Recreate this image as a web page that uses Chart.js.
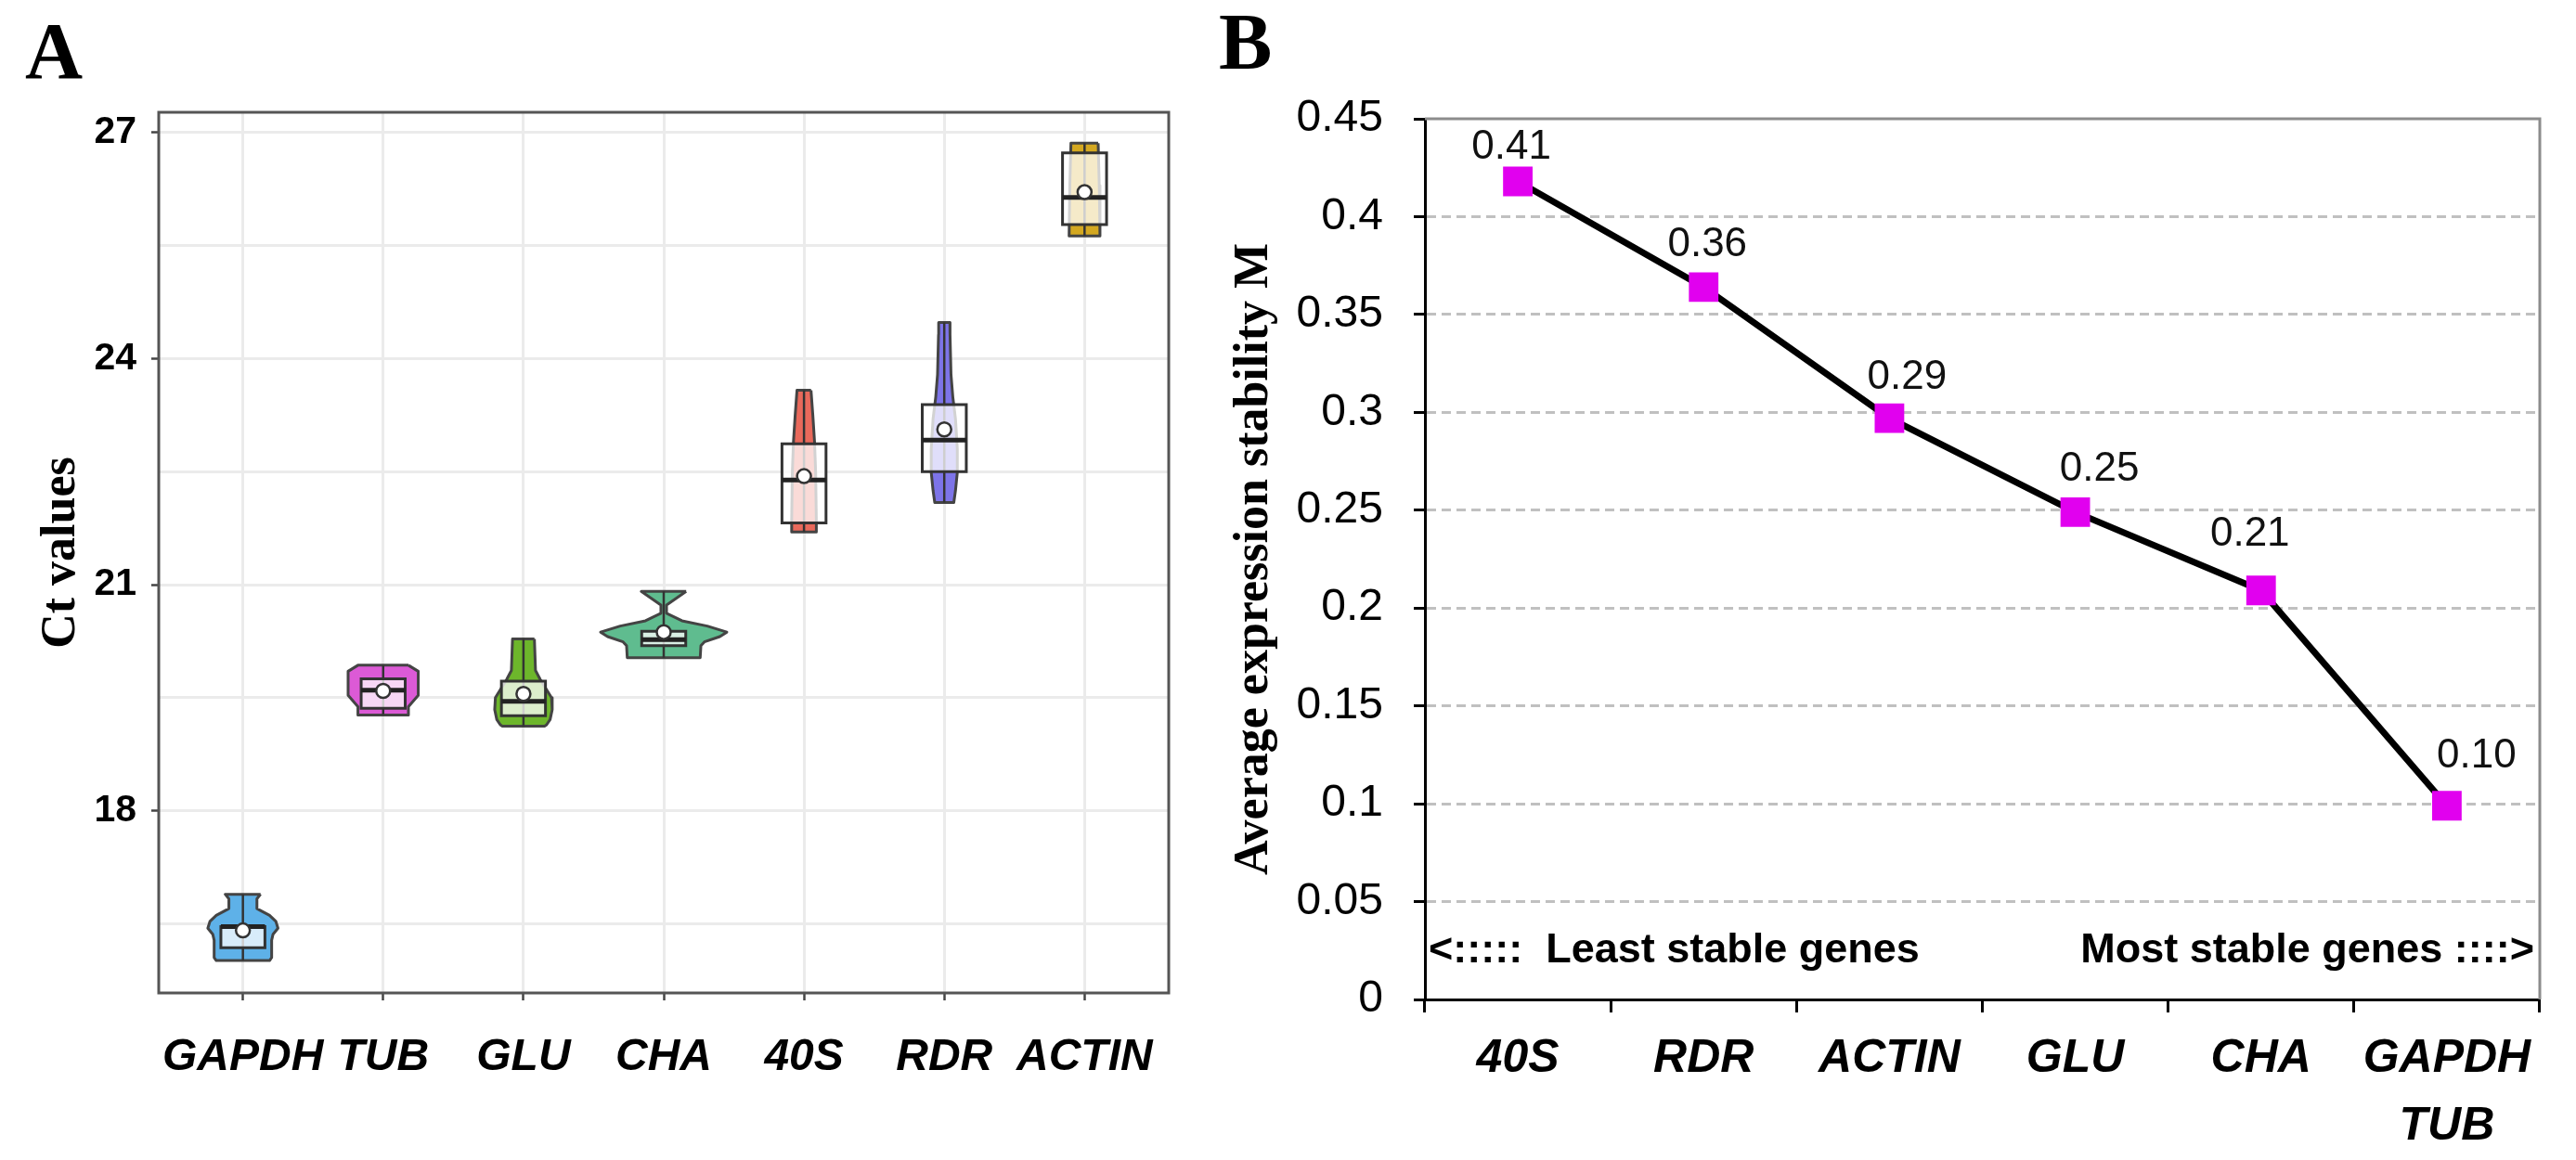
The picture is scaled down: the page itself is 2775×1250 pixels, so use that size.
<!DOCTYPE html>
<html>
<head>
<meta charset="utf-8">
<title>Ct values / expression stability</title>
<script src="https://cdn.jsdelivr.net/npm/chart.js@4.4.1/dist/chart.umd.min.js"></script>
<style>
	html, body { margin:0; padding:0; background:#fff; }
	#wrap { position:relative; width:2775px; height:1250px; overflow:hidden; }
	.panel { position:absolute; top:0; height:1250px; }
	#panelA { left:0; width:1300px; }
	#panelB { left:1300px; width:1475px; }
	.tag { position:absolute; font-family:'Liberation Serif', 'Times New Roman', serif; font-weight:bold; font-size:86px; line-height:1; color:#000; }
</style>
</head>
<body>
<div id="wrap">
	<div class="panel" id="panelA"><canvas id="violin-chart"></canvas></div>
	<div class="panel" id="panelB"><canvas id="line-chart"></canvas></div>
	<div class="tag" style="left:27px;top:12px">A</div>
	<div class="tag" style="left:1313px;top:2px">B</div>
</div>
<script>
// ---- panel A : Ct values ----
const genesA = ['GAPDH', 'TUB', 'GLU', 'CHA', '40S', 'RDR', 'ACTIN'];
const violinGAPDH = [[16.89,0.126],[16.83,0.10],[16.70,0.10],[16.61,0.19],[16.53,0.235],[16.44,0.25],[16.36,0.215],[16.28,0.205],[16.05,0.205],[16.01,0.19]];
const violinTUB = [[19.93,0.18],[19.85,0.25],[19.53,0.25],[19.38,0.18],[19.27,0.18]];
const violinGLU = [[20.28,0.078],[19.86,0.086],[19.74,0.12],[19.62,0.16],[19.50,0.20],[19.34,0.205],[19.21,0.19],[19.14,0.165],[19.12,0.15]];
const violinCHA = [[20.91,0.16],[20.73,0.02],[20.62,0.02],[20.52,0.13],[20.45,0.31],[20.37,0.45],[20.31,0.40],[20.24,0.29],[20.19,0.265],[20.03,0.26]];
const violin40S = [[23.58,0.05],[23.25,0.063],[22.90,0.075],[22.50,0.083],[21.84,0.088],[21.70,0.088]];
const violinRDR = [[24.48,0.04],[24.32,0.041],[23.79,0.048],[23.49,0.061],[23.20,0.08],[22.80,0.093],[22.49,0.093],[22.25,0.08],[22.09,0.068]];
const violinACTIN = [[26.86,0.097],[26.30,0.105],[25.63,0.11]];
const violinsA = [violinGAPDH, violinTUB, violinGLU, violinCHA, violin40S, violinRDR, violinACTIN];
const q1A = [16.18, 19.36, 19.26, 20.19, 21.82, 22.50, 25.78];
const q3A = [16.46, 19.75, 19.72, 20.38, 22.87, 23.39, 26.73];
const medianA = [16.46, 19.60, 19.45, 20.27, 22.39, 22.92, 26.14];
const meanA = [16.41, 19.59, 19.55, 20.37, 22.44, 23.06, 26.21];
const yTicksA = [16.5, 18, 19.5, 21, 22.5, 24, 25.5, 27];
const yLabelsA = [18, 21, 24, 27];

// ---- panel B : geNorm M ----
const genesB = ['40S', 'RDR', 'ACTIN', 'GLU', 'CHA', ['GAPDH', 'TUB']];
const stabilityM = [0.418, 0.364, 0.297, 0.249, 0.209, 0.099];
const stabilityText = ['0.41', '0.36', '0.29', '0.25', '0.21', '0.10'];
const yTicksB = [0, 0.05, 0.1, 0.15, 0.2, 0.25, 0.3, 0.35, 0.4, 0.45];

// styles
const violinFill = ['#5eb1e8', '#dc5ad6', '#6db62b', '#5fbc8f', '#e9695b', '#7d74e8', '#d4a820'];
const BOX_HALF = 0.157;
const labelNudge = [[-7,37],[4,46],[19,44],[26,46],[-12,60],[32,53]]; // dx, up (px)

Chart.defaults.font.family = "'Liberation Sans', Arial, sans-serif";
Chart.defaults.color = '#000';

function violinPoints(i, outline){
	var right = outline.map(function(p){ return {x: i + p[1], y: p[0]}; });
	var left = outline.slice().reverse().map(function(p){ return {x: i - p[1], y: p[0]}; });
	return right.concat(left, [right[0]]);
}

function boxPoints(i){
	return [
		{x: i - BOX_HALF, y: q3A[i]}, {x: i + BOX_HALF, y: q3A[i]},
		{x: i + BOX_HALF, y: q1A[i]}, {x: i - BOX_HALF, y: q1A[i]},
		{x: i - BOX_HALF, y: q3A[i]}
	];
}

//cadre autour de la zone du graphe A
const frameA = {
	id: 'frameA',
	beforeDatasetsDraw(chart){
		var a = chart.chartArea, ctx = chart.ctx;
		ctx.save();
		ctx.strokeStyle = '#555';
		ctx.lineWidth = 3;
		ctx.strokeRect(a.left, a.top, a.right - a.left, a.bottom - a.top);
		ctx.restore();
	}
};

function drawViolins(){
	var datasets = [];
	//moyennes
	datasets.push({
		data: meanA.map(function(m, i){ return {x: i, y: m}; }),
		showLine: false, pointRadius: 7.5, pointBackgroundColor: '#fff',
		pointBorderColor: '#333', pointBorderWidth: 2.5, order: 1
	});
	var med = [];
	medianA.forEach(function(m, i){
		med.push({x: i - BOX_HALF, y: m}, {x: i + BOX_HALF, y: m}, {x: i, y: null});
	});
	datasets.push({ data: med, borderColor: '#222', borderWidth: 5, pointRadius: 0, fill: false, order: 2 });
	genesA.forEach(function(g, i){
		datasets.push({
			data: boxPoints(i), borderColor: '#333', borderWidth: 3, borderCapStyle: 'square',
			backgroundColor: 'rgba(255,255,255,0.76)', fill: 'shape', pointRadius: 0, order: 3
		});
	});
	var wh = [];
	violinsA.forEach(function(v, i){
		wh.push({x: i, y: v[0][0]}, {x: i, y: v[v.length - 1][0]}, {x: i, y: null});
	});
	datasets.push({ data: wh, borderColor: '#333', borderWidth: 2.5, pointRadius: 0, fill: false, order: 4 });
	violinsA.forEach(function(v, i){
		datasets.push({
			data: violinPoints(i, v), borderColor: '#444', borderWidth: 3, borderJoinStyle: 'round',
			backgroundColor: violinFill[i], fill: 'shape', pointRadius: 0, order: 5
		});
	});

	new Chart(document.getElementById('violin-chart'), {
		type: 'line',
		data: { datasets: datasets },
		options: {
			responsive: true,
			maintainAspectRatio: false,
			animation: false,
			events: [],
			layout: { padding: {left: 0, right: 41, top: 121, bottom: 0} },
			plugins: { legend: {display: false}, tooltip: {enabled: false} },
			scales: {
				x: {
					type: 'linear', min: -0.6, max: 6.6,
					afterBuildTicks: function(s){ s.ticks = genesA.map(function(g, i){ return {value: i}; }); },
					afterFit: function(s){ s.height = 180; },
					ticks: {
						callback: function(v){ return genesA[v]; },
						autoSkip: false, maxRotation: 0, minRotation: 0, padding: 33,
						font: {size: 48, weight: 'bold', style: 'italic'}
					},
					grid: { color: '#ebebeb', lineWidth: 3, tickColor: '#444', tickWidth: 2.5, tickLength: 8 },
					border: { display: false }
				},
				y: {
					type: 'linear', min: 15.58, max: 27.27,
					afterBuildTicks: function(s){ s.ticks = yTicksA.map(function(v){ return {value: v}; }); },
					afterFit: function(s){ s.width = 171; },
					ticks: {
						callback: function(v){ return yLabelsA.indexOf(v) >= 0 ? String(v) : ''; },
						padding: 16, font: {size: 41, weight: 'bold'}
					},
					grid: {
						color: '#ebebeb', lineWidth: 3, tickLength: 8, tickWidth: 2.5,
						tickColor: function(c){ return c.tick && yLabelsA.indexOf(c.tick.value) >= 0 ? '#444' : 'rgba(0,0,0,0)'; }
					},
					border: { display: false },
					title: {
						display: true, text: 'Ct values', padding: {top: 35, bottom: 0},
						font: {family: "'Liberation Serif', 'Times New Roman', serif", size: 52, weight: 'bold'}
					}
				}
			}
		},
		plugins: [frameA]
	});
}

//bord haut + droit gris, libelles des points, textes least/most stable
const extrasB = {
	id: 'extrasB',
	beforeDatasetsDraw(chart){
		var a = chart.chartArea, ctx = chart.ctx;
		ctx.save();
		ctx.strokeStyle = '#8c8c8c';
		ctx.lineWidth = 3;
		ctx.beginPath();
		ctx.moveTo(a.left, a.top);
		ctx.lineTo(a.right, a.top);
		ctx.lineTo(a.right, a.bottom);
		ctx.stroke();
		var yy = chart.scales.y.getPixelForValue(0.025);
		ctx.fillStyle = '#000';
		ctx.font = "bold 45px 'Liberation Sans', Arial, sans-serif";
		ctx.textBaseline = 'middle';
		ctx.textAlign = 'left';
		ctx.fillText('<:::::  Least stable genes', a.left + 4, yy);
		ctx.textAlign = 'right';
		ctx.fillText('Most stable genes ::::>', a.right - 6, yy);
		ctx.restore();
	},
	afterDatasetsDraw(chart){
		var ctx = chart.ctx, meta = chart.getDatasetMeta(0);
		ctx.save();
		ctx.fillStyle = '#111';
		ctx.font = "44px 'Liberation Sans', Arial, sans-serif";
		ctx.textAlign = 'center';
		ctx.textBaseline = 'middle';
		meta.data.forEach(function(pt, i){
			ctx.fillText(stabilityText[i], pt.x + labelNudge[i][0], pt.y - labelNudge[i][1]);
		});
		ctx.restore();
	}
};

function drawStability(){
	new Chart(document.getElementById('line-chart'), {
		type: 'line',
		data: {
			labels: genesB,
			datasets: [{
				data: stabilityM,
				borderColor: '#000', borderWidth: 7, tension: 0, fill: false,
				pointStyle: 'rect', pointRadius: 22.5, pointBorderWidth: 0,
				pointBackgroundColor: '#e100ef', pointBorderColor: '#e100ef'
			}]
		},
		options: {
			responsive: true,
			maintainAspectRatio: false,
			animation: false,
			events: [],
			layout: { padding: {left: 0, right: 39, top: 128, bottom: 0} },
			plugins: { legend: {display: false}, tooltip: {enabled: false} },
			scales: {
				x: {
					offset: true,
					afterFit: function(s){ s.height = 173; },
					ticks: {
						autoSkip: false, maxRotation: 0, minRotation: 0, padding: 14,
						font: {size: 50, weight: 'bold', style: 'italic', lineHeight: 1.45}
					},
					grid: { offset: true, drawOnChartArea: false, drawTicks: true, tickLength: 14, tickColor: '#000', tickWidth: 3 },
					border: { display: true, color: '#000', width: 3 }
				},
				y: {
					min: 0, max: 0.45,
					afterBuildTicks: function(s){ s.ticks = yTicksB.map(function(v){ return {value: v}; }); },
					afterFit: function(s){ s.width = 235; },
					ticks: {
						callback: function(v){ return String(+v.toFixed(2)); },
						padding: 33, font: {size: 48}
					},
					grid: {
						color: function(c){ return c.tick && c.tick.value > 0 && c.tick.value < 0.45 ? '#c0c0c0' : 'rgba(0,0,0,0)'; },
						lineWidth: 3, tickLength: 12, tickColor: '#000', tickWidth: 3
					},
					border: { display: true, color: '#000', width: 3, dash: [10, 6] },
					title: {
						display: true, text: 'Average expression stability M', padding: {top: 20, bottom: 0},
						font: {family: "'Liberation Serif', 'Times New Roman', serif", size: 52, weight: 'bold'}
					}
				}
			}
		},
		plugins: [extrasB]
	});
}

drawViolins();
drawStability();
</script>
</body>
</html>
